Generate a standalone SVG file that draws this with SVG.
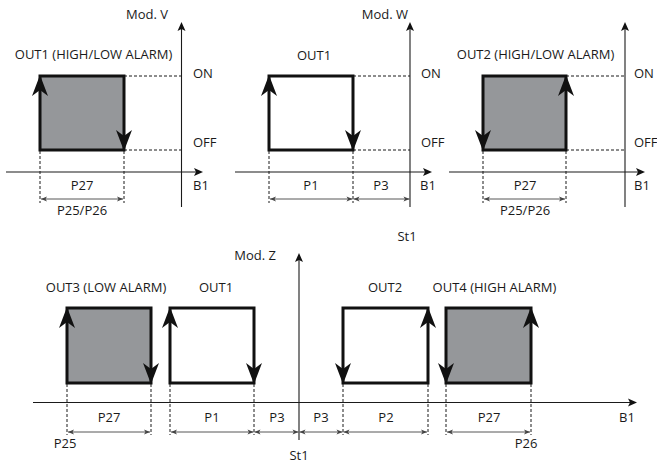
<svg xmlns="http://www.w3.org/2000/svg" xmlns:xlink="http://www.w3.org/1999/xlink" width="657" height="463" viewBox="0 0 657 463">
<style>
text{font-family:"Open Sans","Liberation Sans",sans-serif;font-size:13px;fill:#1a1a1a}
.m{text-anchor:middle}.e{text-anchor:end}
.ax{stroke:#1a1a1a;stroke-width:1.1;fill:none}
.ds{stroke:#1a1a1a;stroke-width:1;stroke-dasharray:3,2;fill:none}
.dim{stroke:#444;stroke-width:0.9;fill:none;marker-start:url(#da);marker-end:url(#da)}
.g{fill:#95979a;stroke:#111;stroke-width:3}
.w{fill:none;stroke:#111;stroke-width:3}
.ah{fill:#111}
</style>
<defs>
<path id="big" d="M0,0 L8,21 L0,15 L-8,21 Z"/>
<path id="sm" d="M0,0 L4,9 L0,7 L-4,9 Z"/>
<marker id="da" viewBox="-7 -3 8 6" refX="0" refY="0" markerWidth="8" markerHeight="6" markerUnits="userSpaceOnUse" orient="auto-start-reverse">
<path d="M0,0 L-6,-2.5 L-4.5,0 L-6,2.5 Z" fill="#444"/>
</marker>
</defs>
<g id="connectors">
<line class="ax" x1="181.5" y1="26" x2="181.5" y2="207"/>
<use href="#sm" class="ah" transform="translate(181.5,22)"/>
<line class="ax" x1="6" y1="172" x2="199" y2="172"/>
<use href="#sm" class="ah" transform="translate(203,172) rotate(90)"/>
<line class="ds" x1="124" y1="76" x2="181" y2="76"/>
<line class="ds" x1="124" y1="150" x2="181" y2="150"/>
<line class="ds" x1="40" y1="151" x2="40" y2="203"/>
<line class="ds" x1="124" y1="151" x2="124" y2="203"/>
<line class="dim" x1="41" y1="199" x2="123" y2="199"/>
<line class="ax" x1="410" y1="26" x2="410" y2="207"/>
<use href="#sm" class="ah" transform="translate(410,22)"/>
<line class="ax" x1="235" y1="172" x2="428" y2="172"/>
<use href="#sm" class="ah" transform="translate(432,172) rotate(90)"/>
<line class="ds" x1="353" y1="76" x2="410" y2="76"/>
<line class="ds" x1="353" y1="150" x2="410" y2="150"/>
<line class="ds" x1="269" y1="151" x2="269" y2="203"/>
<line class="ds" x1="353" y1="151" x2="353" y2="203"/>
<line class="dim" x1="270" y1="199" x2="352.5" y2="199"/>
<line class="dim" x1="353.5" y1="199" x2="409.5" y2="199"/>
<line class="ax" x1="625" y1="26" x2="625" y2="207"/>
<use href="#sm" class="ah" transform="translate(625,22)"/>
<line class="ax" x1="449" y1="172" x2="641" y2="172"/>
<use href="#sm" class="ah" transform="translate(645,172) rotate(90)"/>
<line class="ds" x1="566" y1="76" x2="625" y2="76"/>
<line class="ds" x1="566" y1="150" x2="625" y2="150"/>
<line class="ds" x1="483" y1="151" x2="483" y2="203"/>
<line class="ds" x1="566" y1="151" x2="566" y2="203"/>
<line class="dim" x1="484" y1="199" x2="565" y2="199"/>
<line class="ax" x1="299" y1="257" x2="299" y2="440"/>
<use href="#sm" class="ah" transform="translate(299,253)"/>
<line class="ax" x1="33" y1="402.5" x2="633" y2="402.5"/>
<use href="#sm" class="ah" transform="translate(637,402.5) rotate(90)"/>
<line class="ds" x1="67" y1="384" x2="67" y2="435"/>
<line class="ds" x1="151" y1="384" x2="151" y2="435"/>
<line class="ds" x1="170" y1="384" x2="170" y2="435"/>
<line class="ds" x1="254" y1="384" x2="254" y2="435"/>
<line class="ds" x1="343" y1="384" x2="343" y2="435"/>
<line class="ds" x1="428" y1="384" x2="428" y2="435"/>
<line class="ds" x1="446" y1="384" x2="446" y2="435"/>
<line class="ds" x1="531" y1="384" x2="531" y2="435"/>
<line class="dim" x1="68" y1="432" x2="150" y2="432"/>
<line class="dim" x1="171" y1="432" x2="253.5" y2="432"/>
<line class="dim" x1="254.5" y1="432" x2="298.5" y2="432"/>
<line class="dim" x1="299.5" y1="432" x2="342.5" y2="432"/>
<line class="dim" x1="343.5" y1="432" x2="427" y2="432"/>
<line class="dim" x1="447" y1="432" x2="530" y2="432"/>
</g>
<g id="modV">
<text class="e" x="168" y="19">Mod. V</text>
<text class="m" x="93.5" y="59">OUT1 (HIGH/LOW ALARM)</text>
<rect class="g" x="40" y="76" width="84" height="74"/>
<use href="#big" class="ah" transform="translate(40,75)"/>
<use href="#big" class="ah" transform="translate(124,151) rotate(180)"/>
<text x="193" y="78">ON</text>
<text x="193" y="147">OFF</text>
<text x="193" y="190">B1</text>
<text class="m" x="82" y="190">P27</text>
<text class="m" x="82" y="215">P25/P26</text>
</g>
<g id="modW">
<text class="e" x="408" y="19">Mod. W</text>
<text class="m" x="314" y="60">OUT1</text>
<rect class="w" x="269" y="76" width="84" height="74"/>
<use href="#big" class="ah" transform="translate(269,75)"/>
<use href="#big" class="ah" transform="translate(353,151) rotate(180)"/>
<text x="421" y="78">ON</text>
<text x="421" y="147">OFF</text>
<text x="420" y="190">B1</text>
<text class="m" x="311" y="190">P1</text>
<text class="m" x="381" y="190">P3</text>
<text class="m" x="407" y="241">St1</text>
</g>
<g id="out2">
<text class="m" x="535.5" y="59">OUT2 (HIGH/LOW ALARM)</text>
<rect class="g" x="483" y="76" width="83" height="74"/>
<use href="#big" class="ah" transform="translate(483,151) rotate(180)"/>
<use href="#big" class="ah" transform="translate(566,75)"/>
<text x="634" y="78">ON</text>
<text x="634" y="147">OFF</text>
<text x="634" y="190">B1</text>
<text class="m" x="525" y="190">P27</text>
<text class="m" x="525" y="215">P25/P26</text>
</g>
<g id="modZ">
<text class="e" x="276" y="260">Mod. Z</text>
<text x="627" y="422" class="m">B1</text>
<text class="m" x="299" y="460">St1</text>
</g>
<g id="out3">
<text class="m" x="106" y="292">OUT3 (LOW ALARM)</text>
<rect class="g" x="67" y="308" width="84" height="75"/>
<use href="#big" class="ah" transform="translate(67,307)"/>
<use href="#big" class="ah" transform="translate(151,384) rotate(180)"/>
<text class="m" x="109" y="422">P27</text>
<text class="m" x="65" y="448">P25</text>
</g>
<g id="out1z">
<text class="m" x="216" y="292">OUT1</text>
<rect class="w" x="170" y="308" width="84" height="75"/>
<use href="#big" class="ah" transform="translate(170,307)"/>
<use href="#big" class="ah" transform="translate(254,384) rotate(180)"/>
<text class="m" x="212" y="422">P1</text>
<text class="m" x="277" y="422">P3</text>
</g>
<g id="out2z">
<text class="m" x="385" y="292">OUT2</text>
<rect class="w" x="343" y="308" width="85" height="75"/>
<use href="#big" class="ah" transform="translate(343,384) rotate(180)"/>
<use href="#big" class="ah" transform="translate(428,307)"/>
<text class="m" x="321" y="422">P3</text>
<text class="m" x="386" y="422">P2</text>
</g>
<g id="out4">
<text class="m" x="494.5" y="292">OUT4 (HIGH ALARM)</text>
<rect class="g" x="446" y="308" width="85" height="75"/>
<use href="#big" class="ah" transform="translate(446,384) rotate(180)"/>
<use href="#big" class="ah" transform="translate(531,307)"/>
<text class="m" x="489" y="422">P27</text>
<text class="m" x="526" y="448">P26</text>
</g>
</svg>
